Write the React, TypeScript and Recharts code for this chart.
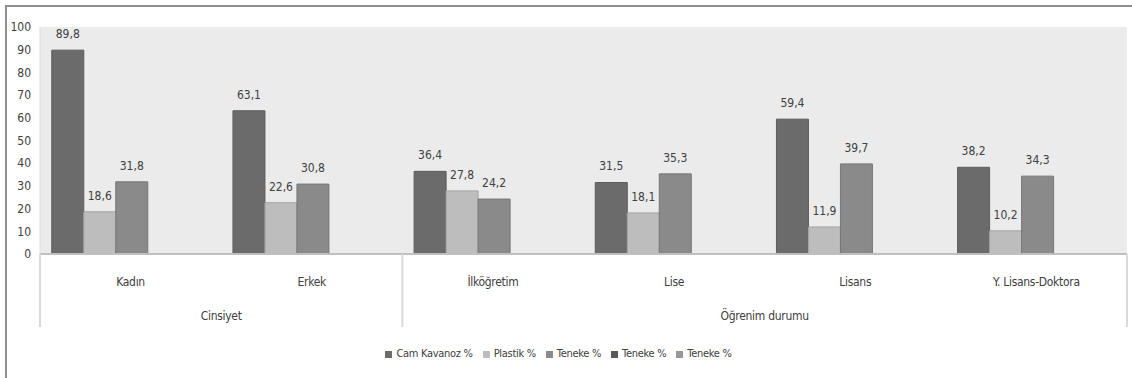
import React from "react"
import { Bar, BarChart, XAxis, YAxis, CartesianGrid, Legend, LabelList } from "recharts"

const categories = ["Kadın", "Erkek", "İlköğretim", "Lise", "Lisans", "Y. Lisans-Doktora"]
const camKavanoz = [89.8, 63.1, 36.4, 31.5, 59.4, 38.2]
const plastik = [18.6, 22.6, 27.8, 18.1, 11.9, 10.2]
const teneke = [31.8, 30.8, 24.2, 35.3, 39.7, 34.3]
const teneke2: (number | null)[] = [null, null, null, null, null, null]
const teneke3: (number | null)[] = [null, null, null, null, null, null]
const groups = [
  { name: "Cinsiyet", count: 2 },
  { name: "Öğrenim durumu", count: 4 },
]
const yTicks = [0, 10, 20, 30, 40, 50, 60, 70, 80, 90, 100]

const data = categories.map((c, i) => ({
  name: c,
  cam: camKavanoz[i],
  plastik: plastik[i],
  teneke: teneke[i],
  teneke2: teneke2[i],
  teneke3: teneke3[i],
}))

const W = 1132
const H = 378
const M = { top: 27, right: 5, left: 0, bottom: 21 }
const Y_W = 40
const BAND = (W - M.left - M.right - Y_W) / categories.length
const FONT = "'Liberation Sans Narrow', 'DejaVu Sans Condensed', sans-serif"
const TXT = "#404040"

const fmt = (v: any) => (v == null ? "" : Number(v).toFixed(1).replace(".", ","))

// group starts, by category index
const groupStart: Record<number, { name: string; count: number }> = {}
let acc = 0
groups.forEach((g) => {
  groupStart[acc] = g
  acc += g.count
})

function CatTick(props: any) {
  const { x, y, payload, index } = props
  const g = groupStart[index]
  const last = index === categories.length - 1
  return (
    <g>
      <text x={x} y={y + 32} textAnchor="middle" fill={TXT} fontSize={12} fontFamily={FONT} letterSpacing={-0.3}>
        {payload.value}
      </text>
      {g && (
        <>
          <line x1={x - BAND / 2} x2={x - BAND / 2} y1={y} y2={y + 73} stroke="#d9d9d9" strokeWidth={2} />
          <text
            x={x - BAND / 2 + (g.count * BAND) / 2}
            y={y + 66}
            textAnchor="middle"
            fill={TXT}
            fontSize={12}
            fontFamily={FONT}
            letterSpacing={-0.3}
          >
            {g.name}
          </text>
        </>
      )}
      {last && <line x1={x + BAND / 2} x2={x + BAND / 2} y1={y} y2={y + 73} stroke="#d9d9d9" strokeWidth={2} />}
    </g>
  )
}

const series = [
  { key: "cam", name: "Cam Kavanoz %", fill: "#6b6b6b", stroke: "#5c5c5c" },
  { key: "plastik", name: "Plastik %", fill: "#bdbdbd", stroke: "#a3a3a3" },
  { key: "teneke", name: "Teneke %", fill: "#8a8a8a", stroke: "#767676" },
  { key: "teneke2", name: "Teneke %", fill: "#595959", stroke: "#4a4a4a" },
  { key: "teneke3", name: "Teneke %", fill: "#979797", stroke: "#858585" },
]

export default function App() {
  return (
    <div style={{ position: "absolute", left: 0, top: 0, width: W, height: H, background: "#fff" }}>
      <div
        style={{
          position: "absolute",
          left: 5,
          top: 5,
          right: 0,
          bottom: 0,
          borderLeft: "2px solid #8f8f8f",
          borderTop: "2px solid #8f8f8f",
        }}
      />
      <BarChart width={W} height={H} data={data} margin={M} barCategoryGap="6.5%" barGap={0}>
        <CartesianGrid fill="#ebebeb" horizontal={false} vertical={false} />
        <XAxis
          dataKey="name"
          height={73}
          tick={<CatTick />}
          tickLine={false}
          tickSize={0}
          tickMargin={0}
          interval={0}
          axisLine={{ stroke: "#bfbfbf", strokeWidth: 2 }}
        />
        <YAxis
          width={Y_W}
          domain={[0, 100]}
          ticks={yTicks}
          interval={0}
          tickLine={false}
          tickSize={0}
          tickMargin={9}
          axisLine={{ stroke: "#dcdcdc" }}
          tick={{ fill: TXT, fontSize: 12, fontFamily: FONT }}
        />
        <Legend
          verticalAlign="bottom"
          height={30}
          iconType="square"
          iconSize={7}
          wrapperStyle={{ fontFamily: FONT, fontSize: 11, bottom: 1, letterSpacing: -0.3 }}
          formatter={(v: any) => <span style={{ color: TXT }}>{v}</span>}
        />
        {series.map((s) => (
          <Bar
            key={s.key}
            dataKey={s.key}
            name={s.name}
            fill={s.fill}
            stroke={s.stroke}
            strokeWidth={1}
            isAnimationActive={false}
          >
            <LabelList
              dataKey={s.key}
              position="top"
              offset={12}
              formatter={fmt}
              fill={TXT}
              fontSize={12}
              fontFamily={FONT}
            />
          </Bar>
        ))}
      </BarChart>
    </div>
  )
}
